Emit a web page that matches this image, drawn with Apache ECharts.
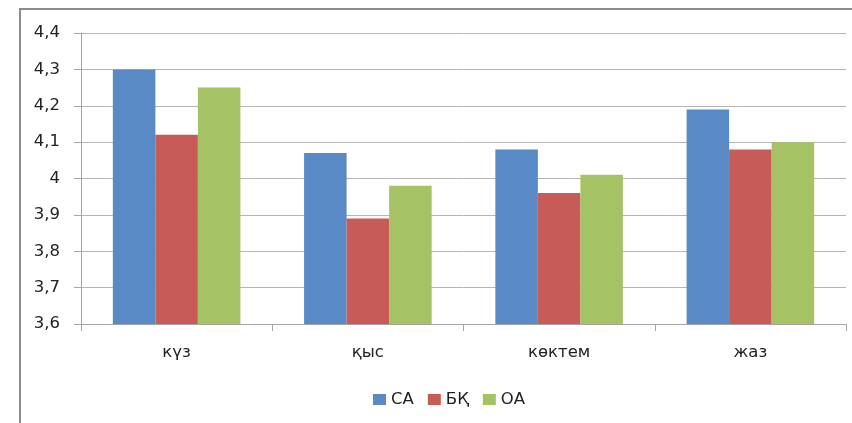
<!DOCTYPE html>
<html>
<head>
<meta charset="utf-8">
<script src="https://cdn.jsdelivr.net/npm/echarts@6/dist/echarts.min.js"></script>
<style>
  html, body { margin: 0; padding: 0; background: #fff; }
  #chart { width: 852px; height: 423px; }
</style>
</head>
<body>
<div id="chart"></div>
<script>
const seasons = ['күз', 'қыс', 'көктем', 'жаз'];
const seriesNames = ['СА', 'БҚ', 'ОА'];
const valuesCA = [4.30, 4.07, 4.08, 4.19];
const valuesBK = [4.12, 3.89, 3.96, 4.08];
const valuesOA = [4.25, 3.98, 4.01, 4.10];
const barColors = ['#5A8AC6', '#C65B57', '#A5C264'];

const fontFam = 'DejaVu Sans, Verdana, sans-serif';
const chart = echarts.init(document.getElementById('chart'));

const bars = [valuesCA, valuesBK, valuesOA].map((vals, i) => ({
  name: seriesNames[i],
  type: 'bar',
  data: vals,
  barGap: '0%',
  barCategoryGap: '33.3%',
  itemStyle: { color: barColors[i] },
  emphasis: { disabled: true }
}));

chart.setOption({
  animation: false,
  graphic: [{
    type: 'rect',
    shape: { x: 20, y: 9, width: 860, height: 440 },
    style: { fill: 'none', stroke: '#8c8c8c', lineWidth: 2 },
    silent: true
  }],
  grid: { left: 81, right: 6, top: 33, bottom: 99 },
  legend: {
    top: 386,
    left: 368,
    itemWidth: 13,
    itemHeight: 11,
    itemGap: 14,
    icon: 'rect',
    textStyle: { fontFamily: fontFam, fontSize: 16.5, color: '#222' },
    data: seriesNames
  },
  xAxis: {
    type: 'category',
    data: seasons,
    axisLine: { lineStyle: { color: '#a6a6a6', width: 1 } },
    axisTick: { show: true, length: 7, alignWithLabel: false, lineStyle: { color: '#a6a6a6' } },
    axisLabel: { margin: 20, fontFamily: fontFam, fontSize: 16.5, color: '#222' }
  },
  yAxis: {
    type: 'value',
    min: 3.6,
    max: 4.4,
    interval: 0.1,
    axisLine: { show: true, lineStyle: { color: '#a6a6a6', width: 1 } },
    axisTick: { show: true, length: 7, inside: false, lineStyle: { color: '#a6a6a6' } },
    splitLine: { lineStyle: { color: '#b5b5b5', width: 1 } },
    axisLabel: {
      margin: 21,
      fontFamily: fontFam,
      fontSize: 16.5,
      color: '#222',
      formatter: v => (Math.round(v * 10) / 10).toString().replace('.', ',')
    }
  },
  series: bars
});
</script>
</body>
</html>
